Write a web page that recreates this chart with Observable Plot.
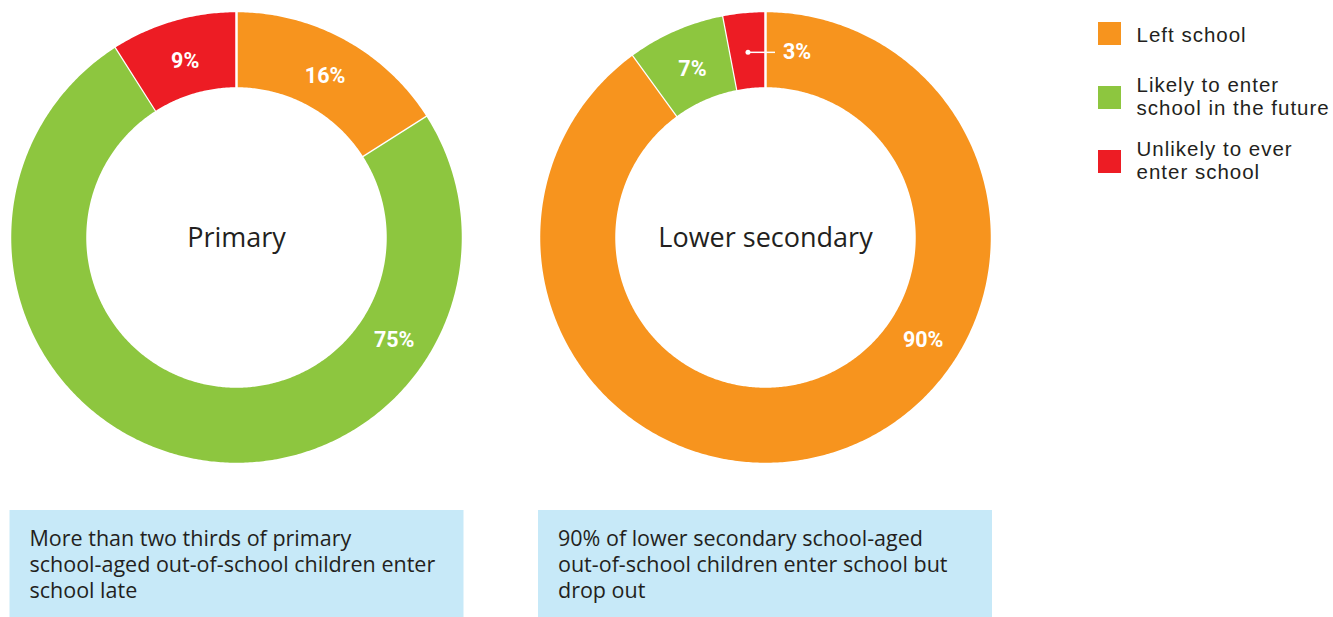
<!DOCTYPE html>
<html><head><meta charset="utf-8">
<script src="https://cdn.jsdelivr.net/npm/d3@7"></script>
<script src="https://cdn.jsdelivr.net/npm/@observablehq/plot@0.6"></script>
<style>body{margin:0;background:#fff;overflow:hidden}</style>
</head><body><div id="chart"></div>
<script>
// ---- data ----
const categories = ["Left school", "Likely to enter school in the future", "Unlikely to ever enter school"];
const legendLabels = ["Left school", "Likely to enter\nschool in the future", "Unlikely to ever\nenter school"];
const colors = ["#F7941E", "#8DC63F", "#ED1C24"];
const levels = ["Primary", "Lower secondary"];
const primaryValues = [16, 75, 9];
const lowerSecondaryValues = [90, 7, 3];
const notes = [
  "More than two thirds of primary\nschool-aged out-of-school children enter\nschool late",
  "90% of lower secondary school-aged\nout-of-school children enter school but\ndrop out"
];

// ---- layout ----
const W = 1333, H = 617;
const centers = [[236, 237], [765, 237]];
const R = 226.5, r0 = 149, rLabel = 186;
const seriesValues = [primaryValues, lowerSecondaryValues];
const ink = "#231f20";
const textFont = "'Open Sans', 'Liberation Sans', sans-serif";
const legendFont = "'Liberation Sans', Arial, sans-serif";
const legendFs = 20.5, legendLh = 23, noteFs = 21.5, noteLh = 26.5;

const polys = [], labels = [], leaders = [];
seriesValues.forEach((vals, d) => {
  const [cx, cy] = centers[d];
  const total = d3.sum(vals);
  let acc = 0;
  vals.forEach((v, i) => {
    const a0 = acc / total * 2 * Math.PI;
    acc += v;
    const a1 = acc / total * 2 * Math.PI;
    const key = d + "-" + i;
    const n = Math.max(4, Math.ceil((a1 - a0) / 0.01));
    for (let k = 0; k <= n; k++) {
      const t = a0 + (a1 - a0) * k / n;
      polys.push({key, cat: categories[i], x: cx + R * Math.sin(t), y: cy - R * Math.cos(t)});
    }
    for (let k = n; k >= 0; k--) {
      const t = a0 + (a1 - a0) * k / n;
      polys.push({key, cat: categories[i], x: cx + r0 * Math.sin(t), y: cy - r0 * Math.cos(t)});
    }
    const share = v / total;
    const am = share > 0.5 ? 123 * Math.PI / 180 : (a0 + a1) / 2;
    const rl = share > 0.5 ? 188 : 184;
    const lx = cx + rl * Math.sin(am), ly = cy - rl * Math.cos(am);
    if (share < 0.05) {
      const dx = cx + rLabel * Math.sin(am), dy = cy - rLabel * Math.cos(am);
      leaders.push({x1: dx, y1: dy, x2: dx + 27, text: v + "%", tx: dx + 35});
    } else {
      labels.push({x: lx, y: ly, text: v + "%"});
    }
  });
});

const legendRows = categories.map((c, i) => ({cat: c, label: legendLabels[i], lines: legendLabels[i].split("\n").length, y1: 22 + i * 64, y2: 45 + i * 64}));

const boxX = [9.5, 538];
const boxes = notes.map((t, i) => ({text: t, x1: boxX[i], x2: boxX[i] + 454, y1: 510, y2: 618}));

const chart = Plot.plot({
  width: W, height: H,
  margin: 0,
  x: {domain: [0, W], range: [0, W], axis: null},
  y: {domain: [0, H], range: [0, H], axis: null},
  color: {domain: categories, range: colors},
  style: {fontFamily: textFont, background: "#fff"},
  marks: [
    Plot.line(polys, {x: "x", y: "y", z: "key", fill: "cat", stroke: "#fff", strokeWidth: 2.5, curve: "linear"}),
    Plot.text(labels, {x: "x", y: "y", text: "text", fill: "#fff", fontSize: 21.5, fontWeight: "bold", fontFamily: "Roboto, sans-serif"}),
    Plot.link(leaders, {x1: "x1", y1: "y1", x2: "x2", y2: "y1", stroke: "#fff", strokeWidth: 1.5}),
    Plot.dot(leaders, {x: "x1", y: "y1", r: 2.5, fill: "#fff", stroke: null}),
    Plot.text(leaders, {x: "tx", y: "y1", text: "text", textAnchor: "start", fill: "#fff", fontSize: 21.5, fontWeight: "bold", fontFamily: "Roboto, sans-serif"}),
    Plot.text(levels, {x: (d, i) => centers[i][0], y: (d, i) => centers[i][1] + 9, text: d => d, lineAnchor: "bottom", fill: ink, fontSize: 27}),
    Plot.rect(legendRows, {x1: 1098, x2: 1121, y1: "y1", y2: "y2", fill: "cat"}),
    Plot.text(legendRows, {x: 1136, y: d => (d.y1 + d.y2) / 2 + (d.lines === 1 ? 1.1 : -1.4), text: "label", textAnchor: "start", lineAnchor: "middle", lineHeight: legendLh / legendFs, fill: ink, fontSize: legendFs, fontFamily: legendFont}),
    Plot.rect(boxes, {x1: "x1", x2: "x2", y1: "y1", y2: "y2", fill: "#C7E9F8"}),
    Plot.text(boxes, {x: d => d.x1 + 19.5, y: 545 - 0.71 * noteLh, text: "text", textAnchor: "start", lineAnchor: "top", lineHeight: noteLh / noteFs, fill: ink, fontSize: noteFs})
  ]
});
const legendFlat = legendLabels.map(s => s.replace(/\n/g, ""));
d3.select(chart).selectAll("text").filter(function () { return legendFlat.includes(this.textContent); }).style("letter-spacing", "1px");
document.getElementById("chart").append(chart);
</script>
</body></html>
